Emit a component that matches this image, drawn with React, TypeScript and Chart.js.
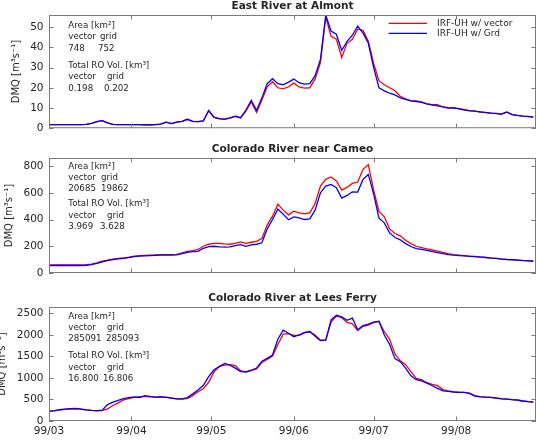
import { useEffect, useRef } from 'react';
import { Chart, registerables } from 'chart.js';

Chart.register(...registerables);
Chart.defaults.font.family = '"DejaVu Sans", sans-serif';

// Day index 0 = 1 March 1999; series are sampled every second day.
const MONTH_DAYS = [0, 31, 61, 92, 122, 153];
const MONTH_LABELS = ['99/03', '99/04', '99/05', '99/06', '99/07', '99/08'];
const LAST_DAY = 183;
const SERIES_NAMES = ['IRF-UH w/ vector', 'IRF-UH w/ Grd'];

// East River at Almont, discharge m3/s
const ALMONT_VECTOR = [
  1.8, 1.8, 1.8, 1.8, 1.8, 1.8, 1.8, 1.9, 2.4, 3.2,
  3.7, 2.6, 1.9, 1.8, 1.8, 1.8, 1.8, 1.8, 1.7, 1.7,
  1.8, 2.0, 3.0, 2.3, 3.0, 3.4, 4.4, 3.4, 3.3, 3.6,
  8.6, 5.3, 4.6, 4.4, 5.0, 5.8, 5.0, 8.5, 13.0, 7.8,
  14.0, 20.5, 23.0, 20.0, 19.5, 20.5, 22.3, 20.4, 19.8, 20.0,
  24.4, 32.5, 55.0, 45.5, 44.0, 35.0, 42.0, 44.0, 49.0, 48.4,
  43.0, 32.0, 23.5, 21.5, 20.0, 18.5, 15.8, 14.5, 13.5, 13.5,
  13.0, 12.0, 11.6, 11.6, 10.5, 9.8, 10.2, 9.6, 9.0, 8.6,
  8.4, 8.0, 7.7, 7.5, 7.2, 7.0, 7.9, 6.7, 6.3, 6.0,
  5.7, 5.5,
];
const ALMONT_GRID = [
  1.8, 1.8, 1.8, 1.8, 1.8, 1.8, 1.8, 1.9, 2.4, 3.2,
  3.7, 2.6, 1.9, 1.8, 1.8, 1.8, 1.8, 1.8, 1.7, 1.7,
  1.8, 2.0, 3.0, 2.3, 3.0, 3.4, 4.4, 3.4, 3.3, 3.6,
  8.8, 5.5, 4.7, 4.5, 5.1, 6.0, 5.2, 9.0, 13.8, 8.8,
  15.0, 22.0, 24.5, 22.0, 21.5, 22.8, 24.3, 22.5, 21.8, 22.0,
  26.0, 34.0, 56.0, 48.0, 46.5, 38.5, 43.0, 46.0, 50.5, 47.0,
  42.0, 30.0, 20.0, 18.5, 17.3, 16.5, 15.0, 14.2, 13.5, 13.2,
  12.8, 12.0, 11.5, 11.0, 10.6, 10.2, 10.0, 9.7, 9.2, 8.7,
  8.4, 8.1, 7.8, 7.5, 7.3, 7.0, 8.0, 6.7, 6.3, 6.0,
  5.8, 5.5,
];

// Colorado River near Cameo
const CAMEO_VECTOR = [
  60, 60, 60, 60, 60, 60, 60, 62, 66, 76,
  88, 96, 104, 110, 112, 118, 126, 130, 132, 134,
  136, 137, 137, 138, 140, 150, 162, 168, 176, 200,
  215, 222, 222, 218, 215, 222, 232, 222, 230, 236,
  258, 360, 425, 515, 470, 435, 462, 450, 442, 450,
  520, 650, 700, 718, 688, 620, 640, 670, 680, 775,
  810, 620, 460, 420, 330, 295, 278, 245, 220, 200,
  190, 180, 172, 164, 155, 145, 138, 134, 130, 126,
  124, 120, 117, 113, 110, 105, 102, 100, 97, 94,
  92, 90,
];
const CAMEO_GRID = [
  56, 56, 56, 56, 56, 56, 56, 58, 62, 72,
  84, 92, 100, 106, 110, 115, 122, 126, 128, 130,
  132, 133, 134, 134, 136, 145, 155, 160, 162, 185,
  198, 200, 196, 194, 196, 205, 212, 200, 210, 215,
  226, 330, 400, 478, 440, 398, 420, 412, 400, 405,
  470, 600, 650, 662, 637, 560, 580, 607, 605, 700,
  737, 590, 410, 375, 300, 265, 248, 220, 198, 183,
  176, 170, 160, 153, 145, 138, 133, 130, 128, 125,
  122, 119, 116, 112, 109, 104, 101, 99, 96, 93,
  91, 88,
];

// Colorado River at Lees Ferry
const LEES_VECTOR = [
  230, 235, 258, 272, 282, 288, 275, 258, 245, 238,
  240, 280, 360, 420, 490, 520, 550, 565, 565, 560,
  555, 560, 555, 535, 515, 510, 520, 590, 680, 750,
  900, 1140, 1270, 1300, 1310, 1290, 1170, 1140, 1170, 1210,
  1360, 1430, 1510, 1780, 2020, 2030, 1990, 1990, 2050, 2070,
  2000, 1880, 1880, 2300, 2440, 2400, 2290, 2260, 2100, 2200,
  2230, 2290, 2310, 2080, 1900, 1560, 1400, 1310, 1150, 990,
  960, 890, 850, 820, 730, 700, 680, 670, 665, 650,
  590, 565, 555, 550, 535, 520, 510, 498, 485, 465,
  450, 438,
];
const LEES_GRID = [
  225, 240, 262, 275, 285, 290, 275, 258, 245, 240,
  250, 380, 440, 480, 520, 545, 560, 545, 590, 570,
  555, 560, 550, 530, 515, 515, 545, 630, 720, 830,
  1031, 1190, 1265, 1340, 1300, 1230, 1150, 1140, 1180, 1230,
  1390, 1455, 1535, 1900, 2110, 2040, 1960, 2000, 2060, 2080,
  1970, 1870, 1880, 2350, 2460, 2420, 2340, 2390, 2120, 2220,
  2250, 2300, 2320, 2000, 1780, 1450, 1380, 1230, 1050, 960,
  930, 880, 820, 760, 700, 690, 670, 665, 665, 640,
  580, 560, 555, 550, 530, 515, 510, 495, 488, 465,
  450, 440,
];

const TITLES = ['East River at Almont', 'Colorado River near Cameo', 'Colorado River at Lees Ferry'];
const AREA_KM2 = [['748', '752'], ['20685', '19862'], ['285091', '285093']];
const RO_VOL_KM3 = [['0.198', '0.202'], ['3.969', '3.628'], ['16.800', '16.806']];
const Y_TICKS = [[0, 10, 20, 30, 40, 50], [0, 200, 400, 600, 800], [0, 500, 1000, 1500, 2000, 2500]];
const Y_MAX = [56, 860, 2650];

const DAYS = ALMONT_VECTOR.map((_, i) => i * 2);

const RED = '#ff0000';
const BLUE = '#0000ff';
const TEXT = '#262626';
const FRAME = '#7a7a7a';
const TICK_LEN = 4.5;
const TICK_FONT = '10.5px "DejaVu Sans"';
const NOTE_FONT = '8.7px "DejaVu Sans"';

type Layout = {
  top: number;
  height: number;
  padTop: number;
  xAxisHeight: number;
  showDates: boolean;
  legend: boolean;
  textTop: [number, number];
  areaCols: [number, number];
  volCols: [number, number];
};

const LAYOUTS: Layout[] = [
  { top: 0, height: 140, padTop: 15, xAxisHeight: 10, showDates: false, legend: true,
    textTop: [10.7, 50.7], areaCols: [51, 49], volCols: [58, 55] },
  { top: 140, height: 145, padTop: 18, xAxisHeight: 12, showDates: false, legend: false,
    textTop: [8.6, 46.2], areaCols: [52, 52], volCols: [58, 51] },
  { top: 285, height: 157, padTop: 22, xAxisHeight: 21, showDates: true, legend: false,
    textTop: [9.3, 49], areaCols: [58, 57], volCols: [58, 54] },
];

const SERIES = [
  [ALMONT_VECTOR, ALMONT_GRID],
  [CAMEO_VECTOR, CAMEO_GRID],
  [LEES_VECTOR, LEES_GRID],
];

function Panel({ idx }: { idx: number }) {
  const ref = useRef<HTMLCanvasElement>(null);
  const lay = LAYOUTS[idx];

  useEffect(() => {
    const canvas = ref.current;
    if (!canvas) return;
    const [vec, grd] = SERIES[idx];
    const yTicks = Y_TICKS[idx];

    const decor = {
      id: 'panelDecor',
      afterDatasetsDraw(chart: any) {
        const { ctx, chartArea: a, scales } = chart;
        const xs = scales.x;
        const ys = scales.y;
        ctx.save();

        // axes box with inward ticks on all four sides
        ctx.strokeStyle = FRAME;
        ctx.lineWidth = 1;
        ctx.strokeRect(a.left + 0.5, a.top + 0.5, a.right - a.left - 1, a.bottom - a.top - 1);
        ctx.beginPath();
        for (const d of MONTH_DAYS) {
          const px = Math.round(xs.getPixelForValue(d)) + 0.5;
          ctx.moveTo(px, a.bottom);
          ctx.lineTo(px, a.bottom - TICK_LEN);
          ctx.moveTo(px, a.top);
          ctx.lineTo(px, a.top + TICK_LEN);
        }
        for (const v of yTicks) {
          const py = Math.round(ys.getPixelForValue(v)) + 0.5;
          ctx.moveTo(a.left, py);
          ctx.lineTo(a.left + TICK_LEN, py);
          ctx.moveTo(a.right, py);
          ctx.lineTo(a.right - TICK_LEN, py);
        }
        ctx.stroke();

        // title
        ctx.fillStyle = TEXT;
        ctx.font = 'bold 10.5px "DejaVu Sans"';
        ctx.textAlign = 'center';
        ctx.textBaseline = 'middle';
        ctx.fillText(TITLES[idx], (a.left + a.right) / 2, a.top - 8.5);

        // y-axis label, placed left of the widest tick label
        ctx.font = TICK_FONT;
        const widest = Math.max(...yTicks.map((v) => ctx.measureText(String(v)).width));
        ctx.save();
        ctx.translate(a.left - 5.5 - widest - 14, (a.top + a.bottom) / 2);
        ctx.rotate(-Math.PI / 2);
        ctx.font = '10px "DejaVu Sans"';
        ctx.fillText('DMQ [m³s⁻¹]', 0, 0);
        ctx.restore();

        // basin notes
        ctx.font = NOTE_FONT;
        ctx.textAlign = 'left';
        const c1 = a.left + 19.3;
        const lh = 11.3;
        const y0 = a.top + lay.textTop[0];
        ctx.fillText('Area [km²]', c1, y0);
        ctx.fillText('vector', c1, y0 + lh);
        ctx.fillText('grid', a.left + lay.areaCols[0], y0 + lh);
        ctx.fillText(AREA_KM2[idx][0], c1, y0 + 2 * lh);
        ctx.fillText(AREA_KM2[idx][1], a.left + lay.areaCols[1], y0 + 2 * lh);
        const y1 = a.top + lay.textTop[1];
        ctx.fillText('Total RO Vol. [km³]', c1, y1);
        ctx.fillText('vector', c1, y1 + lh);
        ctx.fillText('grid', a.left + lay.volCols[0], y1 + lh);
        ctx.fillText(RO_VOL_KM3[idx][0], c1, y1 + 2 * lh);
        ctx.fillText(RO_VOL_KM3[idx][1], a.left + lay.volCols[1], y1 + 2 * lh);

        // legend
        if (lay.legend) {
          const colors = [RED, BLUE];
          ctx.font = '9px "DejaVu Sans"';
          SERIES_NAMES.forEach((name, i) => {
            const ly = a.top + 8.3 + i * 10;
            ctx.strokeStyle = colors[i];
            ctx.lineWidth = 1.3;
            ctx.beginPath();
            ctx.moveTo(a.right - 147.4, ly);
            ctx.lineTo(a.right - 109, ly);
            ctx.stroke();
            ctx.fillStyle = TEXT;
            ctx.fillText(name, a.right - 99, ly);
          });
        }
        ctx.restore();
      },
    };

    const chart = new Chart(canvas, {
      type: 'line',
      data: {
        datasets: [
          {
            label: SERIES_NAMES[0],
            data: DAYS.map((d, i) => ({ x: d, y: vec[i] })),
            borderColor: RED,
            borderWidth: 1.3,
            pointRadius: 0,
            tension: 0,
            order: 1,
          },
          {
            label: SERIES_NAMES[1],
            data: DAYS.map((d, i) => ({ x: d, y: grd[i] })),
            borderColor: BLUE,
            borderWidth: 1.3,
            pointRadius: 0,
            tension: 0,
            order: 0,
          },
        ],
      },
      options: {
        responsive: false,
        animation: false,
        events: [],
        layout: { padding: { top: lay.padTop, right: 1, bottom: 0, left: 0 } },
        plugins: { legend: { display: false }, tooltip: { enabled: false }, title: { display: false } },
        scales: {
          x: {
            type: 'linear',
            min: 0,
            max: LAST_DAY,
            grid: { display: false, drawTicks: false },
            border: { display: false },
            afterBuildTicks: (s: any) => {
              s.ticks = MONTH_DAYS.map((v) => ({ value: v }));
            },
            afterFit: (s: any) => {
              s.height = lay.xAxisHeight;
            },
            ticks: {
              display: lay.showDates,
              autoSkip: false,
              maxRotation: 0,
              padding: 4,
              color: TEXT,
              font: { size: 10.5 },
              callback: (v: any) => MONTH_LABELS[MONTH_DAYS.indexOf(Number(v))] ?? '',
            },
          },
          y: {
            type: 'linear',
            min: 0,
            max: Y_MAX[idx],
            grid: { display: false, drawTicks: false },
            border: { display: false },
            afterBuildTicks: (s: any) => {
              s.ticks = yTicks.map((v) => ({ value: v }));
            },
            afterFit: (s: any) => {
              s.width = 49;
            },
            ticks: {
              padding: 5.5,
              color: TEXT,
              font: { size: 10.5 },
              callback: (v: any) => String(v),
            },
          },
        },
      },
      plugins: [decor],
    } as any);

    return () => chart.destroy();
  }, [idx]);

  return (
    <canvas
      ref={ref}
      width={537}
      height={lay.height}
      style={{ position: 'absolute', left: 0, top: lay.top, width: 537, height: lay.height }}
    />
  );
}

export default function App() {
  return (
    <div style={{ position: 'absolute', left: 0, top: 0, width: 537, height: 442, background: '#fff', overflow: 'hidden' }}>
      {TITLES.map((_, i) => (
        <Panel key={i} idx={i} />
      ))}
    </div>
  );
}
